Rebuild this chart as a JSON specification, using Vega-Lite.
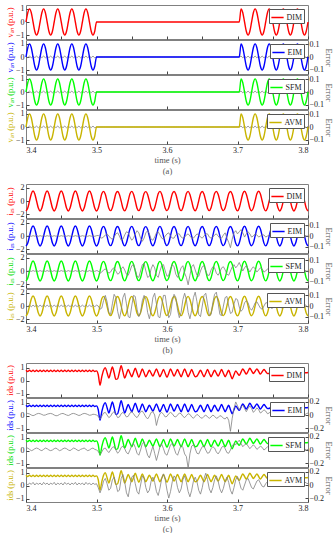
{
"$schema":"https://vega.github.io/schema/vega-lite/v6.json",
"padding":{"left":4,"top":4,"right":0,"bottom":0},
"config":{
 "view":{"stroke":"#808080","strokeWidth":1},
 "font":"Liberation Serif",
 "axis":{"grid":false,"domain":false,"tickColor":"#444","tickSize":-3,"labelFont":"Liberation Serif","titleFont":"Liberation Serif","labelFontSize":8,"titleFontSize":8.5,"titleFontWeight":"normal","labelColor":"#222","titleColor":"#555","labelPadding":5,"titlePadding":1,"titleLineHeight":11},
 "axisRight":{"labelPadding":4,"titlePadding":0},
 "legend":{"orient":"top-right","offset":4,"padding":1.5,"strokeColor":"#555","fillColor":"white","symbolType":"stroke","symbolSize":150,"symbolStrokeWidth":1.5,"labelOffset":2,"labelFont":"Liberation Serif","labelFontSize":8,"labelColor":"#222","cornerRadius":0}
},
"data":{"values":[
{"t":3.4,"a":0,"ae":0.006,"b":-1.5,"bE":0.003,"bS":0.004,"bA":0.008,"c":0.8,"cE":0.02,"cS":0.02,"cA":0.03},
{"t":3.4025,"a":0.71,"ae":-0.005,"b":-1.06,"bE":-0.002,"bS":-0.003,"bA":-0.006,"c":0.7,"cE":0.024,"cS":0.03,"cA":0},
{"t":3.405,"a":1,"ae":0.007,"b":0,"bE":0.004,"bS":0.003,"bA":0.009,"c":0.8,"cE":0.016,"cS":0.01,"cA":0.03},
{"t":3.4075,"a":0.71,"ae":-0.006,"b":1.06,"bE":-0.003,"bS":-0.004,"bA":-0.007,"c":0.7,"cE":0,"cS":-0.01,"cA":0.01},
{"t":3.41,"a":0,"ae":0.006,"b":1.5,"bE":0.003,"bS":0.004,"bA":0.008,"c":0.8,"cE":-0.01,"cS":0,"cA":0.04},
{"t":3.4125,"a":-0.71,"ae":-0.005,"b":1.06,"bE":-0.002,"bS":-0.003,"bA":-0.006,"c":0.7,"cE":0,"cS":0.02,"cA":0},
{"t":3.415,"a":-1,"ae":0.007,"b":0,"bE":0.004,"bS":0.003,"bA":0.009,"c":0.8,"cE":0.016,"cS":0.03,"cA":0.03},
{"t":3.4175,"a":-0.71,"ae":-0.006,"b":-1.06,"bE":-0.003,"bS":-0.004,"bA":-0.007,"c":0.7,"cE":0.024,"cS":0.02,"cA":0.01},
{"t":3.42,"a":0,"ae":0.006,"b":-1.5,"bE":0.003,"bS":0.004,"bA":0.008,"c":0.8,"cE":0.02,"cS":0,"cA":0.03},
{"t":3.4225,"a":0.71,"ae":-0.005,"b":-1.06,"bE":-0.002,"bS":-0.003,"bA":-0.006,"c":0.7,"cE":0.008,"cS":-0.01,"cA":0},
{"t":3.425,"a":1,"ae":0.007,"b":0,"bE":0.004,"bS":0.003,"bA":0.009,"c":0.8,"cE":-0.004,"cS":0.01,"cA":0.04},
{"t":3.4275,"a":0.71,"ae":-0.006,"b":1.06,"bE":-0.003,"bS":-0.004,"bA":-0.007,"c":0.7,"cE":0,"cS":0.03,"cA":0.01},
{"t":3.43,"a":0,"ae":0.006,"b":1.5,"bE":0.003,"bS":0.004,"bA":0.008,"c":0.8,"cE":0.012,"cS":0.02,"cA":0.03},
{"t":3.4325,"a":-0.71,"ae":-0.005,"b":1.06,"bE":-0.002,"bS":-0.003,"bA":-0.006,"c":0.7,"cE":0.02,"cS":0,"cA":0},
{"t":3.435,"a":-1,"ae":0.007,"b":0,"bE":0.004,"bS":0.003,"bA":0.009,"c":0.8,"cE":0.024,"cS":-0.01,"cA":0.03},
{"t":3.4375,"a":-0.71,"ae":-0.006,"b":-1.06,"bE":-0.003,"bS":-0.004,"bA":-0.007,"c":0.7,"cE":0.016,"cS":0,"cA":0.01},
{"t":3.44,"a":0,"ae":0.006,"b":-1.5,"bE":0.003,"bS":0.004,"bA":0.008,"c":0.8,"cE":0,"cS":0.02,"cA":0.04},
{"t":3.4425,"a":0.71,"ae":-0.005,"b":-1.06,"bE":-0.002,"bS":-0.003,"bA":-0.006,"c":0.7,"cE":-0.012,"cS":0.03,"cA":0},
{"t":3.445,"a":1,"ae":0.007,"b":0,"bE":0.004,"bS":0.003,"bA":0.009,"c":0.8,"cE":-0.008,"cS":0.01,"cA":0.03},
{"t":3.4475,"a":0.71,"ae":-0.006,"b":1.06,"bE":-0.003,"bS":-0.004,"bA":-0.007,"c":0.7,"cE":0.008,"cS":-0.01,"cA":0.01},
{"t":3.45,"a":0,"ae":0.006,"b":1.5,"bE":0.003,"bS":0.004,"bA":0.008,"c":0.8,"cE":0.02,"cS":0,"cA":0.03},
{"t":3.4525,"a":-0.71,"ae":-0.005,"b":1.06,"bE":-0.002,"bS":-0.003,"bA":-0.006,"c":0.7,"cE":0.024,"cS":0.02,"cA":0},
{"t":3.455,"a":-1,"ae":0.007,"b":0,"bE":0.004,"bS":0.003,"bA":0.009,"c":0.8,"cE":0.012,"cS":0.03,"cA":0.04},
{"t":3.4575,"a":-0.71,"ae":-0.006,"b":-1.06,"bE":-0.003,"bS":-0.004,"bA":-0.007,"c":0.7,"cE":0,"cS":0.02,"cA":0.01},
{"t":3.46,"a":0,"ae":0.006,"b":-1.5,"bE":0.003,"bS":0.004,"bA":0.008,"c":0.8,"cE":-0.008,"cS":0,"cA":0.03},
{"t":3.4625,"a":0.71,"ae":-0.005,"b":-1.06,"bE":-0.002,"bS":-0.003,"bA":-0.006,"c":0.7,"cE":0.004,"cS":-0.01,"cA":0},
{"t":3.465,"a":1,"ae":0.007,"b":0,"bE":0.004,"bS":0.003,"bA":0.009,"c":0.8,"cE":0.02,"cS":0.01,"cA":0.03},
{"t":3.4675,"a":0.71,"ae":-0.006,"b":1.06,"bE":-0.003,"bS":-0.004,"bA":-0.007,"c":0.7,"cE":0.024,"cS":0.03,"cA":0.01},
{"t":3.47,"a":0,"ae":0.006,"b":1.5,"bE":0.003,"bS":0.004,"bA":0.008,"c":0.8,"cE":0.016,"cS":0.02,"cA":0.04},
{"t":3.4725,"a":-0.71,"ae":-0.005,"b":1.06,"bE":-0.002,"bS":-0.003,"bA":-0.006,"c":0.7,"cE":0.004,"cS":0,"cA":0},
{"t":3.475,"a":-1,"ae":0.007,"b":0,"bE":0.004,"bS":0.003,"bA":0.009,"c":0.8,"cE":-0.008,"cS":-0.01,"cA":0.03},
{"t":3.4775,"a":-0.71,"ae":-0.006,"b":-1.06,"bE":-0.003,"bS":-0.004,"bA":-0.007,"c":0.7,"cE":0,"cS":0.01,"cA":0.01},
{"t":3.48,"a":0,"ae":0.006,"b":-1.5,"bE":0.003,"bS":0.004,"bA":0.008,"c":0.8,"cE":0.016,"cS":0.02,"cA":0.03},
{"t":3.4825,"a":0.71,"ae":-0.005,"b":-1.06,"bE":-0.002,"bS":-0.003,"bA":-0.006,"c":0.7,"cE":0.024,"cS":0.03,"cA":0},
{"t":3.485,"a":1,"ae":0.007,"b":0,"bE":0.004,"bS":0.003,"bA":0.009,"c":0.8,"cE":0.02,"cS":0.01,"cA":0.04},
{"t":3.4875,"a":0.71,"ae":-0.006,"b":1.06,"bE":-0.003,"bS":-0.004,"bA":-0.007,"c":0.7,"cE":0.008,"cS":-0.01,"cA":0.01},
{"t":3.49,"a":0,"ae":0.006,"b":1.5,"bE":0.003,"bS":0.004,"bA":0.008,"c":0.8,"cE":-0.004,"cS":0,"cA":0.03},
{"t":3.4925,"a":-0.71,"ae":-0.005,"b":1.06,"bE":-0.002,"bS":-0.003,"bA":-0.006,"c":0.7,"cE":0,"cS":0.02,"cA":0},
{"t":3.495,"a":-1,"ae":0.007,"b":0,"bE":0.004,"bS":0.003,"bA":0.009,"c":0.8,"cE":0.012,"cS":0.03,"cA":0.03},
{"t":3.4975,"a":-0.71,"ae":-0.006,"b":-1.06,"bE":-0.003,"bS":-0.004,"bA":-0.007,"c":0.7,"cE":0.008,"cS":0.01,"cA":0.01},
{"t":3.5,"a":0,"ae":0,"b":-1.5,"bE":0.003,"bS":0.004,"bA":0.008,"c":0.75,"cE":0,"cS":0,"cA":0.02},
{"t":3.5025,"a":0,"ae":0,"b":-1.08,"bE":0.005,"bS":0,"bA":0,"c":0.45,"cE":-0.02,"cS":-0.02,"cA":-0.04},
{"t":3.505,"a":0,"ae":0,"b":-0.02,"bE":-0.01,"bS":-0.02,"bA":-0.03,"c":-0.35,"cE":-0.06,"cS":-0.07,"cA":-0.12},
{"t":3.5075,"a":0,"ae":0,"b":1.1,"bE":-0.02,"bS":-0.01,"bA":-0.02,"c":0.3,"cE":-0.02,"cS":-0.03,"cA":-0.05},
{"t":3.51,"a":0,"ae":0,"b":1.45,"bE":-0.01,"bS":0.01,"bA":0.05,"c":0.8,"cE":0.03,"cS":0.02,"cA":0.06},
{"t":3.5125,"a":0,"ae":0,"b":1.0,"bE":0.01,"bS":0.02,"bA":0.1,"c":1.0,"cE":0.04,"cS":0.03,"cA":0.1},
{"t":3.515,"a":0,"ae":0,"b":-0.05,"bE":0.02,"bS":0,"bA":0.04,"c":0.6,"cE":0,"cS":-0.01,"cA":0.02},
{"t":3.5175,"a":0,"ae":0,"b":-1.1,"bE":0,"bS":-0.02,"bA":-0.06,"c":0.2,"cE":-0.04,"cS":-0.04,"cA":-0.08},
{"t":3.52,"a":0,"ae":0,"b":-1.45,"bE":-0.02,"bS":-0.01,"bA":-0.08,"c":0.62,"cE":-0.02,"cS":0,"cA":-0.05},
{"t":3.5225,"a":0,"ae":0,"b":-1.0,"bE":-0.03,"bS":0.02,"bA":0.02,"c":1.05,"cE":0.03,"cS":0.04,"cA":0.08},
{"t":3.525,"a":0,"ae":0,"b":0.05,"bE":-0.01,"bS":0.03,"bA":0.11,"c":0.6,"cE":0.05,"cS":0.05,"cA":0.12},
{"t":3.5275,"a":0,"ae":0,"b":1.12,"bE":0.02,"bS":0,"bA":0.08,"c":0.1,"cE":0.01,"cS":0,"cA":0.02},
{"t":3.53,"a":0,"ae":0,"b":1.42,"bE":0.03,"bS":-0.03,"bA":-0.05,"c":0.15,"cE":-0.04,"cS":-0.05,"cA":-0.1},
{"t":3.5325,"a":0,"ae":0,"b":0.98,"bE":0,"bS":-0.02,"bA":-0.12,"c":0.65,"cE":-0.03,"cS":-0.02,"cA":-0.08},
{"t":3.535,"a":0,"ae":0,"b":-0.02,"bE":-0.04,"bS":0.02,"bA":-0.04,"c":1.15,"cE":0.02,"cS":0.04,"cA":0.1},
{"t":3.5375,"a":0,"ae":0,"b":-1.1,"bE":-0.03,"bS":0.04,"bA":0.08,"c":0.67,"cE":0.04,"cS":0.06,"cA":0.16},
{"t":3.54,"a":0,"ae":0,"b":-1.48,"bE":0.01,"bS":0.01,"bA":0.12,"c":0.2,"cE":0.01,"cS":0.02,"cA":0.05},
{"t":3.5425,"a":0,"ae":0,"b":-1.02,"bE":0.04,"bS":-0.03,"bA":0.02,"c":0.52,"cE":-0.03,"cS":-0.04,"cA":-0.12},
{"t":3.545,"a":0,"ae":0,"b":0.04,"bE":0.03,"bS":-0.04,"bA":-0.1,"c":0.85,"cE":-0.02,"cS":-0.06,"cA":-0.18},
{"t":3.5475,"a":0,"ae":0,"b":1.1,"bE":-0.01,"bS":0,"bA":-0.11,"c":0.57,"cE":0.03,"cS":0,"cA":-0.02},
{"t":3.55,"a":0,"ae":0,"b":1.45,"bE":-0.04,"bS":0.05,"bA":0,"c":0.3,"cE":0.05,"cS":0.07,"cA":0.12},
{"t":3.5525,"a":0,"ae":0,"b":1.02,"bE":-0.02,"bS":0.06,"bA":0.1,"c":0.62,"cE":0.02,"cS":0.1,"cA":0.15},
{"t":3.555,"a":0,"ae":0,"b":0,"bE":0.02,"bS":0.01,"bA":0.09,"c":0.95,"cE":-0.02,"cS":0.04,"cA":0.02},
{"t":3.5575,"a":0,"ae":0,"b":-1.08,"bE":0.05,"bS":-0.05,"bA":-0.03,"c":0.6,"cE":-0.04,"cS":-0.05,"cA":-0.1},
{"t":3.56,"a":0,"ae":0,"b":-1.45,"bE":0.03,"bS":-0.06,"bA":-0.1,"c":0.25,"cE":0,"cS":-0.08,"cA":-0.14},
{"t":3.5625,"a":0,"ae":0,"b":-1.0,"bE":-0.02,"bS":0,"bA":-0.06,"c":0.57,"cE":0.05,"cS":0,"cA":0},
{"t":3.565,"a":0,"ae":0,"b":0.05,"bE":-0.05,"bS":0.06,"bA":0.05,"c":0.9,"cE":0.06,"cS":0.1,"cA":0.14},
{"t":3.5675,"a":0,"ae":0,"b":1.12,"bE":-0.02,"bS":0.07,"bA":0.1,"c":0.6,"cE":0.02,"cS":0.12,"cA":0.1},
{"t":3.57,"a":0,"ae":0,"b":1.4,"bE":0.03,"bS":0,"bA":0.06,"c":0.3,"cE":-0.03,"cS":0.02,"cA":-0.04},
{"t":3.5725,"a":0,"ae":0,"b":0.98,"bE":0.05,"bS":-0.06,"bA":-0.06,"c":0.55,"cE":-0.06,"cS":-0.08,"cA":-0.12},
{"t":3.575,"a":0,"ae":0,"b":-0.04,"bE":0.02,"bS":-0.05,"bA":-0.12,"c":0.8,"cE":-0.02,"cS":-0.12,"cA":-0.08},
{"t":3.5775,"a":0,"ae":0,"b":-1.1,"bE":-0.03,"bS":0.02,"bA":-0.04,"c":0.57,"cE":0.04,"cS":-0.03,"cA":0.06},
{"t":3.58,"a":0,"ae":0,"b":-1.46,"bE":-0.04,"bS":0.06,"bA":0.08,"c":0.35,"cE":0.05,"cS":0.06,"cA":0.12},
{"t":3.5825,"a":0,"ae":0,"b":-1.0,"bE":-0.01,"bS":0.03,"bA":0.12,"c":0.62,"cE":0,"cS":-0.05,"cA":0.04},
{"t":3.585,"a":0,"ae":0,"b":0.03,"bE":0.03,"bS":-0.04,"bA":0.02,"c":0.9,"cE":-0.16,"cS":-0.16,"cA":-0.1},
{"t":3.5875,"a":0,"ae":0,"b":1.1,"bE":0.04,"bS":-0.06,"bA":-0.1,"c":0.6,"cE":-0.05,"cS":-0.06,"cA":-0.16},
{"t":3.59,"a":0,"ae":0,"b":1.44,"bE":0.01,"bS":0,"bA":-0.11,"c":0.3,"cE":0.02,"cS":0.05,"cA":-0.05},
{"t":3.5925,"a":0,"ae":0,"b":1.0,"bE":-0.02,"bS":0.05,"bA":0,"c":0.57,"cE":0.04,"cS":0.09,"cA":0.1},
{"t":3.595,"a":0,"ae":0,"b":-0.02,"bE":-0.03,"bS":0.06,"bA":0.1,"c":0.85,"cE":0.01,"cS":0.02,"cA":0.17},
{"t":3.5975,"a":0,"ae":0,"b":-1.08,"bE":0,"bS":0,"bA":0.1,"c":0.55,"cE":-0.03,"cS":-0.06,"cA":0.08},
{"t":3.6,"a":0,"ae":0,"b":-1.44,"bE":0.02,"bS":-0.05,"bA":-0.02,"c":0.25,"cE":-0.02,"cS":-0.08,"cA":-0.08},
{"t":3.6025,"a":0,"ae":0,"b":-1.02,"bE":0.03,"bS":-0.04,"bA":-0.11,"c":0.57,"cE":0.02,"cS":0,"cA":-0.2},
{"t":3.605,"a":0,"ae":0,"b":0.04,"bE":0,"bS":0.02,"bA":-0.08,"c":0.9,"cE":0.04,"cS":0.08,"cA":-0.1},
{"t":3.6075,"a":0,"ae":0,"b":1.1,"bE":-0.02,"bS":0.06,"bA":0.04,"c":0.62,"cE":0.02,"cS":0.1,"cA":0.05},
{"t":3.61,"a":0,"ae":0,"b":1.42,"bE":-0.02,"bS":0.04,"bA":0.11,"c":0.35,"cE":-0.02,"cS":0.03,"cA":0.14},
{"t":3.6125,"a":0,"ae":0,"b":1.0,"bE":0.01,"bS":-0.03,"bA":0.08,"c":0.6,"cE":-0.03,"cS":-0.05,"cA":0.1},
{"t":3.615,"a":0,"ae":0,"b":0,"bE":0.02,"bS":-0.06,"bA":-0.04,"c":0.85,"cE":0,"cS":-0.08,"cA":-0.04},
{"t":3.6175,"a":0,"ae":0,"b":-1.1,"bE":0.02,"bS":-0.02,"bA":-0.11,"c":0.57,"cE":0.03,"cS":0,"cA":-0.12},
{"t":3.62,"a":0,"ae":0,"b":-1.45,"bE":-0.01,"bS":0.03,"bA":-0.06,"c":0.3,"cE":0.02,"cS":0.07,"cA":-0.06},
{"t":3.6225,"a":0,"ae":0,"b":-1.0,"bE":-0.02,"bS":0.05,"bA":0.06,"c":0.6,"cE":-0.02,"cS":0.04,"cA":0.08},
{"t":3.625,"a":0,"ae":0,"b":0.04,"bE":-0.01,"bS":-0.02,"bA":0.12,"c":0.9,"cE":-0.04,"cS":-0.06,"cA":0.14},
{"t":3.6275,"a":0,"ae":0,"b":1.12,"bE":0.01,"bS":-0.06,"bA":0.06,"c":0.6,"cE":-0.01,"cS":-0.1,"cA":0.04},
{"t":3.63,"a":0,"ae":0,"b":1.44,"bE":0.02,"bS":-0.13,"bA":-0.06,"c":0.3,"cE":0.02,"cS":-0.28,"cA":-0.1},
{"t":3.6325,"a":0,"ae":0,"b":0.98,"bE":0,"bS":-0.04,"bA":-0.12,"c":0.57,"cE":0.01,"cS":-0.06,"cA":-0.18},
{"t":3.635,"a":0,"ae":0,"b":-0.03,"bE":-0.02,"bS":0.04,"bA":-0.04,"c":0.85,"cE":-0.03,"cS":0.06,"cA":-0.08},
{"t":3.6375,"a":0,"ae":0,"b":-1.1,"bE":-0.02,"bS":0.06,"bA":0.08,"c":0.55,"cE":-0.05,"cS":0.08,"cA":0.06},
{"t":3.64,"a":0,"ae":0,"b":-1.46,"bE":0,"bS":0.01,"bA":0.13,"c":0.3,"cE":-0.02,"cS":0.02,"cA":0.12},
{"t":3.6425,"a":0,"ae":0,"b":-1.02,"bE":0.02,"bS":-0.04,"bA":0.04,"c":0.35,"cE":0.01,"cS":-0.05,"cA":0.05},
{"t":3.645,"a":0,"ae":0,"b":0.03,"bE":0.01,"bS":-0.05,"bA":-0.08,"c":0.58,"cE":-0.01,"cS":-0.06,"cA":-0.08},
{"t":3.6475,"a":0,"ae":0,"b":1.1,"bE":-0.01,"bS":0,"bA":-0.1,"c":0.8,"cE":-0.04,"cS":0,"cA":-0.14},
{"t":3.65,"a":0,"ae":0,"b":1.43,"bE":-0.02,"bS":0.04,"bA":0,"c":0.55,"cE":-0.05,"cS":0.05,"cA":-0.04},
{"t":3.6525,"a":0,"ae":0,"b":1.0,"bE":0,"bS":0.05,"bA":0.1,"c":0.3,"cE":-0.02,"cS":0.06,"cA":0.1},
{"t":3.655,"a":0,"ae":0,"b":-0.02,"bE":0.02,"bS":0,"bA":0.12,"c":0.57,"cE":0,"cS":0,"cA":0.18},
{"t":3.6575,"a":0,"ae":0,"b":-1.08,"bE":0.02,"bS":-0.04,"bA":0.02,"c":0.85,"cE":-0.03,"cS":-0.05,"cA":0.08},
{"t":3.66,"a":0,"ae":0,"b":-1.44,"bE":-0.01,"bS":-0.04,"bA":-0.09,"c":0.57,"cE":-0.05,"cS":-0.04,"cA":-0.06},
{"t":3.6625,"a":0,"ae":0,"b":-1.0,"bE":-0.02,"bS":0.01,"bA":-0.08,"c":0.3,"cE":-0.03,"cS":0.02,"cA":-0.12},
{"t":3.665,"a":0,"ae":0,"b":0.05,"bE":-0.01,"bS":0.04,"bA":0.03,"c":0.55,"cE":0,"cS":0.05,"cA":-0.04},
{"t":3.6675,"a":0,"ae":0,"b":1.12,"bE":0.01,"bS":0.03,"bA":0.11,"c":0.8,"cE":-0.02,"cS":0.03,"cA":0.08},
{"t":3.67,"a":0,"ae":0,"b":1.45,"bE":0.02,"bS":-0.02,"bA":0.13,"c":0.57,"cE":-0.05,"cS":-0.03,"cA":0.14},
{"t":3.6725,"a":0,"ae":0,"b":1.0,"bE":0,"bS":-0.04,"bA":0.03,"c":0.35,"cE":-0.04,"cS":-0.06,"cA":0.06},
{"t":3.675,"a":0,"ae":0,"b":0,"bE":-0.02,"bS":-0.01,"bA":-0.08,"c":0.6,"cE":-0.01,"cS":-0.02,"cA":-0.06},
{"t":3.6775,"a":0,"ae":0,"b":-1.1,"bE":-0.02,"bS":0.03,"bA":-0.09,"c":0.85,"cE":-0.02,"cS":0.04,"cA":-0.12},
{"t":3.68,"a":0,"ae":0,"b":-1.45,"bE":0.01,"bS":0.04,"bA":0,"c":0.57,"cE":-0.05,"cS":0.06,"cA":-0.05},
{"t":3.6825,"a":0,"ae":0,"b":-1.02,"bE":0.03,"bS":0.01,"bA":0.08,"c":0.3,"cE":-0.06,"cS":0.02,"cA":0.06},
{"t":3.685,"a":0,"ae":0,"b":0.02,"bE":-0.02,"bS":-0.03,"bA":0.09,"c":0.55,"cE":-0.03,"cS":-0.04,"cA":0.12},
{"t":3.6875,"a":0,"ae":0,"b":1.1,"bE":-0.06,"bS":-0.04,"bA":0,"c":0.8,"cE":-0.08,"cS":-0.05,"cA":0.04},
{"t":3.69,"a":0,"ae":0,"b":1.42,"bE":-0.11,"bS":0,"bA":-0.07,"c":0.45,"cE":-0.25,"cS":0,"cA":-0.08},
{"t":3.6925,"a":0,"ae":0,"b":1.0,"bE":-0.03,"bS":0.04,"bA":-0.06,"c":0.15,"cE":-0.05,"cS":0.06,"cA":-0.14},
{"t":3.695,"a":0,"ae":0,"b":-0.02,"bE":0.03,"bS":0.06,"bA":0.02,"c":0.45,"cE":0.1,"cS":0.1,"cA":-0.04},
{"t":3.6975,"a":0,"ae":0,"b":-1.1,"bE":0.05,"bS":0.03,"bA":0.07,"c":0.75,"cE":0.2,"cS":0.08,"cA":0.08},
{"t":3.7,"a":0,"ae":0,"b":-1.48,"bE":0.02,"bS":0.05,"bA":0.06,"c":0.57,"cE":0.14,"cS":0.12,"cA":0.13},
{"t":3.7025,"a":0,"ae":0,"b":-1.04,"bE":0.04,"bS":0.08,"bA":-0.01,"c":0.4,"cE":0.08,"cS":0.15,"cA":0.05},
{"t":3.705,"a":1,"ae":0.007,"b":0.03,"bE":0.06,"bS":0.04,"bA":-0.05,"c":0.65,"cE":0.12,"cS":0.1,"cA":-0.05},
{"t":3.7075,"a":0.71,"ae":-0.006,"b":1.1,"bE":0.03,"bS":0,"bA":-0.03,"c":0.9,"cE":0.15,"cS":0.05,"cA":-0.08},
{"t":3.71,"a":0,"ae":0.006,"b":1.46,"bE":-0.01,"bS":0.03,"bA":0.03,"c":0.7,"cE":0.1,"cS":0.08,"cA":0},
{"t":3.7125,"a":-0.71,"ae":-0.005,"b":1.02,"bE":0.02,"bS":0.05,"bA":0.05,"c":0.5,"cE":0.05,"cS":0.1,"cA":0.08},
{"t":3.715,"a":-1,"ae":0.007,"b":0,"bE":0.04,"bS":0.02,"bA":0.03,"c":0.72,"cE":0.1,"cS":0.06,"cA":0.1},
{"t":3.7175,"a":-0.71,"ae":-0.006,"b":-1.08,"bE":0.02,"bS":-0.01,"bA":-0.02,"c":0.95,"cE":0.14,"cS":0.02,"cA":0.03},
{"t":3.72,"a":0,"ae":0.006,"b":-1.46,"bE":-0.01,"bS":0.02,"bA":-0.04,"c":0.75,"cE":0.1,"cS":0.05,"cA":-0.04},
{"t":3.7225,"a":0.71,"ae":-0.005,"b":-1.03,"bE":0,"bS":0.04,"bA":-0.01,"c":0.55,"cE":0.04,"cS":0.08,"cA":-0.06},
{"t":3.725,"a":1,"ae":0.007,"b":0.02,"bE":0.02,"bS":0.02,"bA":0.03,"c":0.72,"cE":0.07,"cS":0.05,"cA":0},
{"t":3.7275,"a":0.71,"ae":-0.006,"b":1.08,"bE":0.01,"bS":-0.01,"bA":0.04,"c":0.9,"cE":0.11,"cS":0.01,"cA":0.06},
{"t":3.73,"a":0,"ae":0.006,"b":1.47,"bE":-0.01,"bS":0.01,"bA":0.01,"c":0.7,"cE":0.08,"cS":0.03,"cA":0.08},
{"t":3.7325,"a":-0.71,"ae":-0.005,"b":1.04,"bE":0,"bS":0.03,"bA":-0.02,"c":0.5,"cE":0.03,"cS":0.06,"cA":0.03},
{"t":3.735,"a":-1,"ae":0.007,"b":0,"bE":0.01,"bS":0.02,"bA":-0.03,"c":0.68,"cE":0.05,"cS":0.04,"cA":-0.02},
{"t":3.7375,"a":-0.71,"ae":-0.006,"b":-1.07,"bE":0.01,"bS":-0.01,"bA":0,"c":0.85,"cE":0.08,"cS":0,"cA":-0.03},
{"t":3.74,"a":0,"ae":0.006,"b":-1.48,"bE":-0.01,"bS":0,"bA":0.03,"c":0.7,"cE":0.06,"cS":0.02,"cA":0.02},
{"t":3.7425,"a":0.71,"ae":-0.005,"b":-1.04,"bE":0,"bS":0.02,"bA":0.03,"c":0.55,"cE":0.02,"cS":0.05,"cA":0.05},
{"t":3.745,"a":1,"ae":0.007,"b":0.01,"bE":0.01,"bS":0.02,"bA":0,"c":0.55,"cE":0.03,"cS":0.03,"cA":0.06},
{"t":3.7475,"a":0.71,"ae":-0.006,"b":1.07,"bE":0.01,"bS":0,"bA":-0.02,"c":0.68,"cE":0.06,"cS":0,"cA":0.03},
{"t":3.75,"a":0,"ae":0.006,"b":1.48,"bE":-0.01,"bS":0,"bA":-0.02,"c":0.8,"cE":0.05,"cS":0.01,"cA":0},
{"t":3.7525,"a":-0.71,"ae":-0.005,"b":1.05,"bE":0,"bS":0.02,"bA":0.01,"c":0.7,"cE":0.02,"cS":0.04,"cA":0.01},
{"t":3.755,"a":-1,"ae":0.007,"b":0,"bE":0.01,"bS":0.01,"bA":0.02,"c":0.6,"cE":0.01,"cS":0.03,"cA":0.04},
{"t":3.7575,"a":-0.71,"ae":-0.006,"b":-1.06,"bE":0,"bS":0,"bA":0.02,"c":0.7,"cE":0.04,"cS":0,"cA":0.05},
{"t":3.76,"a":0,"ae":0.006,"b":-1.49,"bE":-0.01,"bS":0,"bA":0,"c":0.8,"cE":0.05,"cS":0.01,"cA":0.03},
{"t":3.7625,"a":0.71,"ae":-0.005,"b":-1.05,"bE":0,"bS":0.02,"bA":-0.02,"c":0.72,"cE":0.02,"cS":0.03,"cA":0.01},
{"t":3.765,"a":1,"ae":0.007,"b":0,"bE":0.01,"bS":0.01,"bA":-0.01,"c":0.65,"cE":0,"cS":0.02,"cA":0.02},
{"t":3.7675,"a":0.71,"ae":-0.006,"b":1.06,"bE":0,"bS":0,"bA":0.01,"c":0.7,"cE":0.03,"cS":0,"cA":0.04},
{"t":3.77,"a":0,"ae":0.006,"b":1.49,"bE":-0.01,"bS":0,"bA":0.02,"c":0.75,"cE":0.04,"cS":0.01,"cA":0.05},
{"t":3.7725,"a":-0.71,"ae":-0.005,"b":1.05,"bE":0,"bS":0.01,"bA":0.01,"c":0.7,"cE":0.02,"cS":0.03,"cA":0.03},
{"t":3.775,"a":-1,"ae":0.007,"b":0,"bE":0.01,"bS":0.01,"bA":-0.01,"c":0.65,"cE":0,"cS":0.02,"cA":0.01},
{"t":3.7775,"a":-0.71,"ae":-0.006,"b":-1.06,"bE":0,"bS":0,"bA":-0.01,"c":0.72,"cE":0.02,"cS":0,"cA":0.02},
{"t":3.78,"a":0,"ae":0.006,"b":-1.5,"bE":-0.01,"bS":0,"bA":0.01,"c":0.78,"cE":0.04,"cS":0.01,"cA":0.04},
{"t":3.7825,"a":0.71,"ae":-0.005,"b":-1.06,"bE":0,"bS":0.01,"bA":0.02,"c":0.73,"cE":0.02,"cS":0.03,"cA":0.05},
{"t":3.785,"a":1,"ae":0.007,"b":0,"bE":0.01,"bS":0.01,"bA":0.01,"c":0.68,"cE":0,"cS":0.02,"cA":0.03},
{"t":3.7875,"a":0.71,"ae":-0.006,"b":1.06,"bE":0,"bS":0,"bA":-0.01,"c":0.72,"cE":0.02,"cS":0,"cA":0.01},
{"t":3.79,"a":0,"ae":0.006,"b":1.5,"bE":-0.01,"bS":0,"bA":-0.01,"c":0.75,"cE":0.03,"cS":0.01,"cA":0.02},
{"t":3.7925,"a":-0.71,"ae":-0.005,"b":1.06,"bE":0,"bS":0.01,"bA":0.01,"c":0.68,"cE":0.02,"cS":0.03,"cA":0.04},
{"t":3.795,"a":-1,"ae":0.007,"b":0,"bE":0.01,"bS":0.01,"bA":0.02,"c":0.62,"cE":0,"cS":0.02,"cA":0.05},
{"t":3.7975,"a":-0.71,"ae":-0.006,"b":-1.06,"bE":0,"bS":0,"bA":0,"c":0.6,"cE":0.02,"cS":0,"cA":0.03},
{"t":3.8,"a":0,"ae":0.006,"b":-1.5,"bE":0,"bS":0,"bA":-0.01,"c":0.62,"cE":0.03,"cS":0.01,"cA":0.02}
]},
"spacing":8,
"resolve":{"scale":{"y":"independent","color":"independent"},"legend":{"color":"independent"}},
"vconcat":[
{"spacing":1,"bounds":"flush","resolve":{"scale":{"y":"independent","color":"independent"},"legend":{"color":"independent"}},
 "vconcat":[
  {"width":282,"height":34,"mark":{"type":"line","strokeWidth":1.4,"interpolate":"monotone"},
   "encoding":{"x":{"field":"t","type":"quantitative","scale":{"domain":[3.4,3.8],"nice":false,"zero":false},"axis":{"labels":false,"title":null,"values":[3.4,3.45,3.5,3.55,3.6,3.65,3.7,3.75,3.8]}},
    "y":{"field":"a","type":"quantitative","scale":{"domain":[-1.3,1.3],"nice":false},"axis":{"title":"vₐₙ (p.u.)","titleColor":"#ff0000","values":[-1,0,1]}},
    "color":{"datum":"DIM","type":"nominal","scale":{"domain":["DIM"],"range":["#ff0000"]},"legend":{"title":null}}}},
  {"width":282,"height":34,"resolve":{"scale":{"y":"independent"}},"layer":[
   {"mark":{"type":"line","color":"#808080","strokeWidth":0.8},"encoding":{"x":{"field":"t","type":"quantitative","scale":{"domain":[3.4,3.8],"nice":false,"zero":false},"axis":{"labels":false,"title":null,"values":[3.4,3.45,3.5,3.55,3.6,3.65,3.7,3.75,3.8]}},"y":{"field":"ae","type":"quantitative","scale":{"domain":[-0.135,0.135],"nice":false},"axis":{"orient":"right","title":"Error","values":[-0.1,0,0.1],"format":"~g"}}}},
   {"mark":{"type":"line","strokeWidth":1.4,"interpolate":"monotone"},"encoding":{"x":{"field":"t","type":"quantitative"},"y":{"field":"a","type":"quantitative","scale":{"domain":[-1.3,1.3],"nice":false},"axis":{"orient":"left","title":"vₐₙ (p.u.)","titleColor":"#0000ff","values":[-1,0,1]}},"color":{"datum":"EIM","type":"nominal","scale":{"domain":["EIM"],"range":["#0000ff"]},"legend":{"title":null}}}}
  ]},
  {"width":282,"height":34,"resolve":{"scale":{"y":"independent"}},"layer":[
   {"mark":{"type":"line","color":"#808080","strokeWidth":0.8},"encoding":{"x":{"field":"t","type":"quantitative","scale":{"domain":[3.4,3.8],"nice":false,"zero":false},"axis":{"labels":false,"title":null,"values":[3.4,3.45,3.5,3.55,3.6,3.65,3.7,3.75,3.8]}},"y":{"field":"ae","type":"quantitative","scale":{"domain":[-0.135,0.135],"nice":false},"axis":{"orient":"right","title":"Error","values":[-0.1,0,0.1],"format":"~g"}}}},
   {"mark":{"type":"line","strokeWidth":1.4,"interpolate":"monotone"},"encoding":{"x":{"field":"t","type":"quantitative"},"y":{"field":"a","type":"quantitative","scale":{"domain":[-1.3,1.3],"nice":false},"axis":{"orient":"left","title":"vₐₙ (p.u.)","titleColor":"#00dd00","values":[-1,0,1]}},"color":{"datum":"SFM","type":"nominal","scale":{"domain":["SFM"],"range":["#00ff00"]},"legend":{"title":null}}}}
  ]},
  {"width":282,"height":34,"resolve":{"scale":{"y":"independent"}},"layer":[
   {"mark":{"type":"line","color":"#808080","strokeWidth":0.8},"encoding":{"x":{"field":"t","type":"quantitative","scale":{"domain":[3.4,3.8],"nice":false,"zero":false},"axis":{"title":["time (s)","(a)"],"values":[3.4,3.45,3.5,3.55,3.6,3.65,3.7,3.75,3.8],"format":"~g"}},"y":{"field":"ae","type":"quantitative","scale":{"domain":[-0.135,0.135],"nice":false},"axis":{"orient":"right","title":"Error","values":[-0.1,0,0.1],"format":"~g"}}}},
   {"mark":{"type":"line","strokeWidth":1.4,"interpolate":"monotone"},"encoding":{"x":{"field":"t","type":"quantitative"},"y":{"field":"a","type":"quantitative","scale":{"domain":[-1.3,1.3],"nice":false},"axis":{"orient":"left","title":"vₐₙ (p.u.)","titleColor":"#c8b400","values":[-1,0,1]}},"color":{"datum":"AVM","type":"nominal","scale":{"domain":["AVM"],"range":["#c8b400"]},"legend":{"title":null}}}}
  ]}
 ]},
{"spacing":1,"bounds":"flush","resolve":{"scale":{"y":"independent","color":"independent"},"legend":{"color":"independent"}},
 "vconcat":[
  {"width":282,"height":34,"mark":{"type":"line","strokeWidth":1.4,"interpolate":"monotone"},
   "encoding":{"x":{"field":"t","type":"quantitative","scale":{"domain":[3.4,3.8],"nice":false,"zero":false},"axis":{"labels":false,"title":null,"values":[3.4,3.45,3.5,3.55,3.6,3.65,3.7,3.75,3.8]}},
    "y":{"field":"b","type":"quantitative","scale":{"domain":[-2.55,2.55],"nice":false},"axis":{"title":"iₐₛ (p.u.)","titleColor":"#ff0000","values":[-2,0,2]}},
    "color":{"datum":"DIM","type":"nominal","scale":{"domain":["DIM"],"range":["#ff0000"]},"legend":{"title":null}}}},
  {"width":282,"height":34,"resolve":{"scale":{"y":"independent"}},"layer":[
   {"mark":{"type":"line","strokeWidth":1.4,"interpolate":"monotone"},"encoding":{"x":{"field":"t","type":"quantitative","scale":{"domain":[3.4,3.8],"nice":false,"zero":false},"axis":{"labels":false,"title":null,"values":[3.4,3.45,3.5,3.55,3.6,3.65,3.7,3.75,3.8]}},"y":{"field":"b","type":"quantitative","scale":{"domain":[-2.55,2.55],"nice":false},"axis":{"orient":"left","title":"iₐₛ (p.u.)","titleColor":"#0000ff","values":[-2,0,2]}},"color":{"datum":"EIM","type":"nominal","scale":{"domain":["EIM"],"range":["#0000ff"]},"legend":{"title":null}}}},
   {"mark":{"type":"line","color":"#808080","strokeWidth":0.8},"encoding":{"x":{"field":"t","type":"quantitative"},"y":{"field":"bE","type":"quantitative","scale":{"domain":[-0.16,0.16],"nice":false},"axis":{"orient":"right","title":"Error","values":[-0.1,0,0.1],"format":"~g"}}}}
  ]},
  {"width":282,"height":34,"resolve":{"scale":{"y":"independent"}},"layer":[
   {"mark":{"type":"line","strokeWidth":1.4,"interpolate":"monotone"},"encoding":{"x":{"field":"t","type":"quantitative","scale":{"domain":[3.4,3.8],"nice":false,"zero":false},"axis":{"labels":false,"title":null,"values":[3.4,3.45,3.5,3.55,3.6,3.65,3.7,3.75,3.8]}},"y":{"field":"b","type":"quantitative","scale":{"domain":[-2.55,2.55],"nice":false},"axis":{"orient":"left","title":"iₐₛ (p.u.)","titleColor":"#00dd00","values":[-2,0,2]}},"color":{"datum":"SFM","type":"nominal","scale":{"domain":["SFM"],"range":["#00ff00"]},"legend":{"title":null}}}},
   {"mark":{"type":"line","color":"#808080","strokeWidth":0.8},"encoding":{"x":{"field":"t","type":"quantitative"},"y":{"field":"bS","type":"quantitative","scale":{"domain":[-0.16,0.16],"nice":false},"axis":{"orient":"right","title":"Error","values":[-0.1,0,0.1],"format":"~g"}}}}
  ]},
  {"width":282,"height":34,"resolve":{"scale":{"y":"independent"}},"layer":[
   {"mark":{"type":"line","strokeWidth":1.4,"interpolate":"monotone"},"encoding":{"x":{"field":"t","type":"quantitative","scale":{"domain":[3.4,3.8],"nice":false,"zero":false},"axis":{"title":["time (s)","(b)"],"values":[3.4,3.45,3.5,3.55,3.6,3.65,3.7,3.75,3.8],"format":"~g"}},"y":{"field":"b","type":"quantitative","scale":{"domain":[-2.55,2.55],"nice":false},"axis":{"orient":"left","title":"iₐₛ (p.u.)","titleColor":"#c8b400","values":[-2,0,2]}},"color":{"datum":"AVM","type":"nominal","scale":{"domain":["AVM"],"range":["#c8b400"]},"legend":{"title":null}}}},
   {"mark":{"type":"line","color":"#808080","strokeWidth":0.8},"encoding":{"x":{"field":"t","type":"quantitative"},"y":{"field":"bA","type":"quantitative","scale":{"domain":[-0.16,0.16],"nice":false},"axis":{"orient":"right","title":"Error","values":[-0.1,0,0.1],"format":"~g"}}}}
  ]}
 ]},
{"spacing":1,"bounds":"flush","resolve":{"scale":{"y":"independent","color":"independent"},"legend":{"color":"independent"}},
 "vconcat":[
  {"width":282,"height":34,"mark":{"type":"line","strokeWidth":1.4,"interpolate":"monotone"},
   "encoding":{"x":{"field":"t","type":"quantitative","scale":{"domain":[3.4,3.8],"nice":false,"zero":false},"axis":{"labels":false,"title":null,"values":[3.4,3.45,3.5,3.55,3.6,3.65,3.7,3.75,3.8]}},
    "y":{"field":"c","type":"quantitative","scale":{"domain":[-1.25,1.35],"nice":false},"axis":{"title":"ids (p.u.)","titleColor":"#ff0000","values":[-1,0,1]}},
    "color":{"datum":"DIM","type":"nominal","scale":{"domain":["DIM"],"range":["#ff0000"]},"legend":{"title":null}}}},
  {"width":282,"height":34,"resolve":{"scale":{"y":"independent"}},"layer":[
   {"mark":{"type":"line","strokeWidth":1.4,"interpolate":"monotone"},"encoding":{"x":{"field":"t","type":"quantitative","scale":{"domain":[3.4,3.8],"nice":false,"zero":false},"axis":{"labels":false,"title":null,"values":[3.4,3.45,3.5,3.55,3.6,3.65,3.7,3.75,3.8]}},"y":{"field":"c","type":"quantitative","scale":{"domain":[-1.25,1.35],"nice":false},"axis":{"orient":"left","title":"ids (p.u.)","titleColor":"#0000ff","values":[-1,0,1]}},"color":{"datum":"EIM","type":"nominal","scale":{"domain":["EIM"],"range":["#0000ff"]},"legend":{"title":null}}}},
   {"mark":{"type":"line","color":"#808080","strokeWidth":0.8},"encoding":{"x":{"field":"t","type":"quantitative"},"y":{"field":"cE","type":"quantitative","scale":{"domain":[-0.26,0.26],"nice":false},"axis":{"orient":"right","title":"Error","values":[-0.2,0,0.2],"format":"~g"}}}}
  ]},
  {"width":282,"height":34,"resolve":{"scale":{"y":"independent"}},"layer":[
   {"mark":{"type":"line","strokeWidth":1.4,"interpolate":"monotone"},"encoding":{"x":{"field":"t","type":"quantitative","scale":{"domain":[3.4,3.8],"nice":false,"zero":false},"axis":{"labels":false,"title":null,"values":[3.4,3.45,3.5,3.55,3.6,3.65,3.7,3.75,3.8]}},"y":{"field":"c","type":"quantitative","scale":{"domain":[-1.25,1.35],"nice":false},"axis":{"orient":"left","title":"ids (p.u.)","titleColor":"#00dd00","values":[-1,0,1]}},"color":{"datum":"SFM","type":"nominal","scale":{"domain":["SFM"],"range":["#00ff00"]},"legend":{"title":null}}}},
   {"mark":{"type":"line","color":"#808080","strokeWidth":0.8},"encoding":{"x":{"field":"t","type":"quantitative"},"y":{"field":"cS","type":"quantitative","scale":{"domain":[-0.26,0.26],"nice":false},"axis":{"orient":"right","title":"Error","values":[-0.2,0,0.2],"format":"~g"}}}}
  ]},
  {"width":282,"height":34,"resolve":{"scale":{"y":"independent"}},"layer":[
   {"mark":{"type":"line","strokeWidth":1.4,"interpolate":"monotone"},"encoding":{"x":{"field":"t","type":"quantitative","scale":{"domain":[3.4,3.8],"nice":false,"zero":false},"axis":{"title":["time (s)","(c)"],"values":[3.4,3.45,3.5,3.55,3.6,3.65,3.7,3.75,3.8],"format":"~g"}},"y":{"field":"c","type":"quantitative","scale":{"domain":[-1.25,1.35],"nice":false},"axis":{"orient":"left","title":"ids (p.u.)","titleColor":"#c8b400","values":[-1,0,1]}},"color":{"datum":"AVM","type":"nominal","scale":{"domain":["AVM"],"range":["#c8b400"]},"legend":{"title":null}}}},
   {"mark":{"type":"line","color":"#808080","strokeWidth":0.8},"encoding":{"x":{"field":"t","type":"quantitative"},"y":{"field":"cA","type":"quantitative","scale":{"domain":[-0.26,0.26],"nice":false},"axis":{"orient":"right","title":"Error","values":[-0.2,0,0.2],"format":"~g"}}}}
  ]}
 ]}
]
}
